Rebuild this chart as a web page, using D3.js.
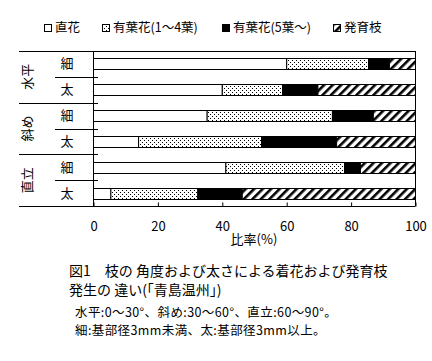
<!DOCTYPE html>
<html><head><meta charset="utf-8">
<script src="https://cdn.jsdelivr.net/npm/d3@7/dist/d3.min.js"></script>
<style>
body{margin:0;background:#fff;}
svg text{font-family:"Noto Sans CJK JP","Noto Sans",sans-serif;fill:#000;}
</style></head><body>
<svg id="c" width="432" height="361"></svg>
<script>
const groups = ["水平","斜め","直立"];
const sizes = ["細","太"];
const rows = ["水平-細","水平-太","斜め-細","斜め-太","直立-細","直立-太"];
const seriesNames = ["直花","有葉花(1～4葉)","有葉花(5葉～)","発育枝"];
const chokka   = [60.0, 40.0, 35.3, 14.0, 41.1, 5.4];
const yoka14   = [25.4, 18.7, 38.9, 38.2, 36.9, 27.0];
const yoka5    = [ 6.5, 11.0, 12.7, 23.3,  4.9, 13.8];
const hatsuiku = [ 8.1, 30.3, 13.1, 24.5, 17.1, 53.8];
const xTicks = [0,20,40,60,80,100];
const xTitle = "比率(%)";
const captionLines = ["図1　枝の 角度および太さによる着花および発育枝","発生の 違い(「青島温州」)"];
const noteLines = ["水平:0～30°、斜め:30～60°、直立:60～90°。","細:基部径3mm未満、太:基部径3mm以上。"];

const svg = d3.select("#c");
const defs = svg.append("defs");
const dots = defs.append("pattern").attr("id","dots").attr("patternUnits","userSpaceOnUse").attr("width",4).attr("height",4);
dots.append("rect").attr("width",4).attr("height",4).attr("fill","#fff");
dots.append("rect").attr("x",0).attr("y",0).attr("width",1).attr("height",1).attr("fill","#000");
dots.append("rect").attr("x",2).attr("y",2).attr("width",1).attr("height",1).attr("fill","#000");
const hatch = defs.append("pattern").attr("id","hatch").attr("patternUnits","userSpaceOnUse").attr("width",6).attr("height",6).attr("patternTransform","rotate(45)");
hatch.append("rect").attr("width",6).attr("height",6).attr("fill","#fff");
hatch.append("rect").attr("x",0).attr("y",0).attr("width",2.6).attr("height",6).attr("fill","#000");

const fills = ["#fff","url(#dots)","#000","url(#hatch)"];

const L = 93, R = 415, T = 51, B = 206, outerL = 19;
const x = d3.scaleLinear().domain([0,100]).range([L,R]);
const y = d3.scaleBand().domain(rows).range([T,B]).paddingInner(0.57).paddingOuter(0.285);
const yEdges = d3.scaleLinear().domain([0,rows.length]).range([T,B]);

const data = rows.map((r,i)=>({row:r, s0:chokka[i], s1:yoka14[i], s2:yoka5[i], s3:hatsuiku[i]}));
const stack = d3.stack().keys(["s0","s1","s2","s3"])(data);

// bars
svg.append("g").selectAll("g").data(stack).join("g")
  .attr("fill",(d,i)=>fills[i])
  .selectAll("rect").data(d=>d).join("rect")
  .attr("x",d=>x(d[0])+0.5).attr("y",d=>Math.round(y(d.data.row))+0.5)
  .attr("width",d=>x(d[1])-x(d[0])).attr("height",11)
  .attr("stroke","#000").attr("stroke-width",1);

// frame
const fr = svg.append("g").attr("stroke","#000").attr("stroke-width",1).attr("fill","none");
fr.append("line").attr("x1",outerL).attr("x2",R+0.5).attr("y1",T+0.5).attr("y2",T+0.5);
fr.append("line").attr("x1",outerL).attr("x2",R+0.5).attr("y1",B+0.5).attr("y2",B+0.5);
fr.append("line").attr("x1",L+0.5).attr("x2",L+0.5).attr("y1",T).attr("y2",B);
fr.append("line").attr("x1",R+0.5).attr("x2",R+0.5).attr("y1",T).attr("y2",B);
[2,4].forEach(k=>fr.append("line").attr("x1",outerL).attr("x2",L).attr("y1",Math.round(yEdges(k))+0.5).attr("y2",Math.round(yEdges(k))+0.5));
[1,3,5].forEach(k=>fr.append("line").attr("x1",55).attr("x2",L).attr("y1",Math.round(yEdges(k))+0.5).attr("y2",Math.round(yEdges(k))+0.5));
[1,2,3,4,5].forEach(k=>fr.append("line").attr("x1",L).attr("x2",L+5).attr("y1",Math.round(yEdges(k))+0.5).attr("y2",Math.round(yEdges(k))+0.5));

// x axis
const xa = svg.append("g").attr("transform",`translate(0.5,${B+0.5})`)
  .call(d3.axisBottom(x).tickValues(xTicks).tickSize(-4).tickPadding(15).tickFormat(d3.format("d")));
xa.select(".domain").remove();
xa.selectAll("line").attr("stroke","#000");
xa.selectAll("text").attr("font-size",13).attr("font-family","'Liberation Sans',sans-serif").attr("fill","#222");

svg.append("text").attr("x",254).attr("y",244).attr("text-anchor","middle").attr("font-size",13).text(xTitle);

// row labels
rows.forEach((r,i)=>{
  svg.append("text").attr("x",67).attr("y",y(r)+5.5).attr("dy","0.35em").attr("text-anchor","middle").attr("font-size",13).text(sizes[i%2]);
});
groups.forEach((g,i)=>{
  const cy = (yEdges(i*2)+yEdges(i*2+2))/2;
  svg.append("text").attr("transform",`translate(27,${cy}) rotate(-90)`).attr("text-anchor","middle").attr("dy","0.35em").attr("font-size",13).text(g);
});

// legend
const legX = [44,102,222,333];
const lg = svg.append("g");
seriesNames.forEach((s,i)=>{
  lg.append("rect").attr("x",legX[i]+0.5).attr("y",24.5).attr("width",7).attr("height",7).attr("fill",fills[i]).attr("stroke","#000");
  lg.append("text").attr("x",legX[i]+11).attr("y",28).attr("dy","0.35em").attr("font-size",12.5).text(s);
});

// caption
captionLines.forEach((t,i)=>{
  svg.append("text").attr("x",69).attr("y",271+i*19).attr("dy","0.35em").attr("font-size",14).text(t);
});
noteLines.forEach((t,i)=>{
  svg.append("text").attr("x",75).attr("y",313+i*18).attr("dy","0.35em").attr("font-size",12.5).attr("letter-spacing","0.4").text(t);
});
</script></body></html>
